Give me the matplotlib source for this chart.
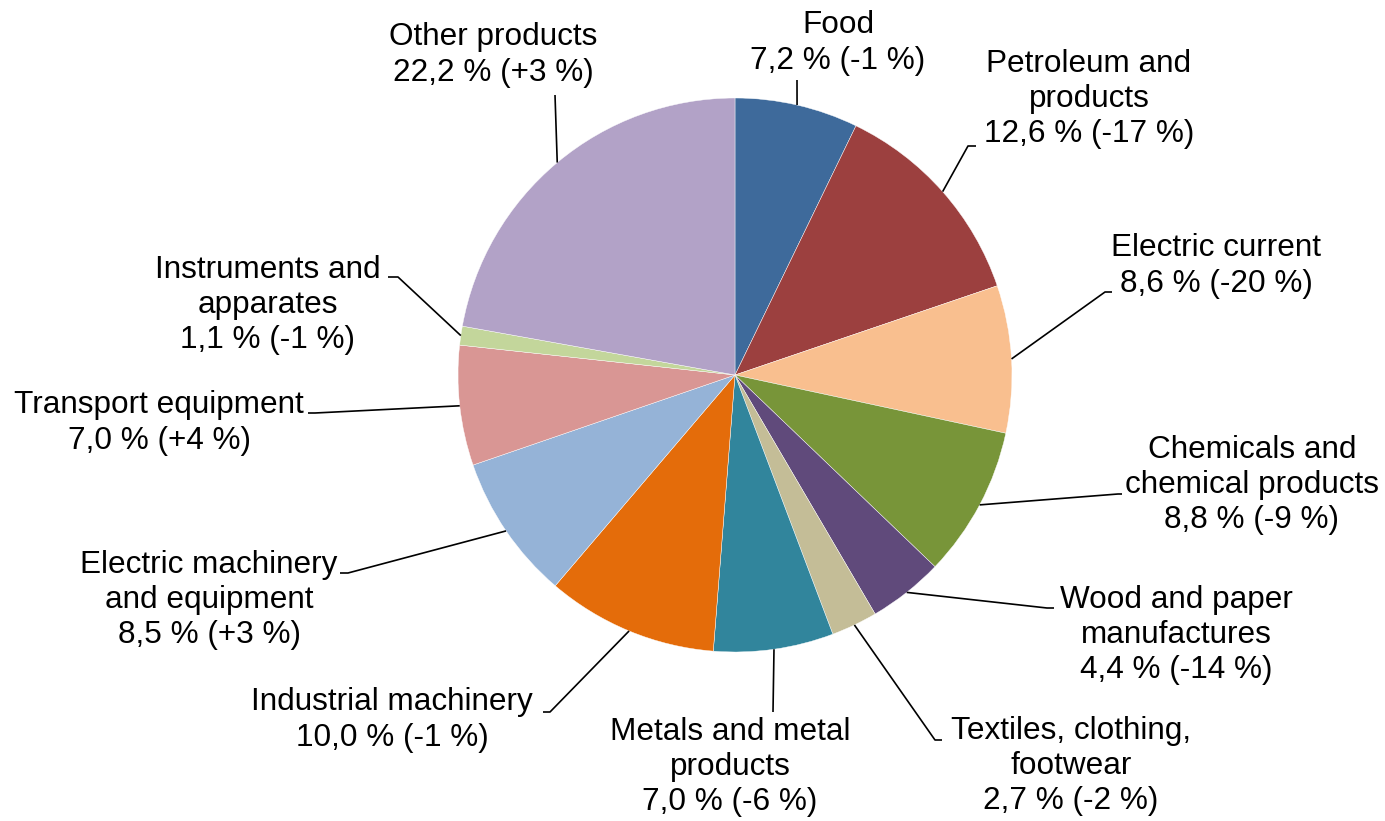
import numpy as np
import matplotlib.pyplot as plt

# data
categories = ['Food', 'Petroleum and\nproducts', 'Electric current',
              'Chemicals and\nchemical products', 'Wood and paper\nmanufactures',
              'Textiles, clothing,\nfootwear', 'Metals and metal\nproducts',
              'Industrial machinery', 'Electric machinery\nand equipment',
              'Transport equipment', 'Instruments and\napparates', 'Other products']
shares = [7.2, 12.6, 8.6, 8.8, 4.4, 2.7, 7.0, 10.0, 8.5, 7.0, 1.1, 22.2]
share_labels = ['7,2', '12,6', '8,6', '8,8', '4,4', '2,7', '7,0', '10,0', '8,5', '7,0', '1,1', '22,2']
changes = ['-1', '-17', '-20', '-9', '-14', '-2', '-6', '-1', '+3', '+4', '-1', '+3']

colors = ['#3E6A9B', '#9C403F', '#F9BF8F', '#789539', '#604A7B', '#C4BD97',
          '#31859C', '#E46C0A', '#95B3D7', '#D99694', '#C3D69B', '#B2A2C7']

W, H = 1385, 821
cx, cy, R = 735, 375, 277

# label layout in pixel coords (text centre, elbow of leader, end of leader)
text_pos = [(838, 43), (1089, 99), (1216, 266), (1252, 485), (1176, 635),
            (1071, 766), (730, 767), (392, 720), (209, 600), (159, 423),
            (268, 305), (493, 55)]
elbows = [(797, 80), (968, 146), (1105, 292), (1118, 494), (1047, 608),
          (935, 740), (773, 712), (550, 712), (348, 573), (315, 413),
          (398, 277), (555, 95)]
ends = [(797, 80), (976, 146), (1112, 292), (1122, 494), (1054, 608),
        (942, 740), (773, 712), (543, 712), (340, 573), (308, 413),
        (388, 277), (555, 95)]

plt.rcParams['font.family'] = ['Liberation Sans', 'DejaVu Sans']

fig = plt.figure(figsize=(W / 100, H / 100), dpi=100)
ax = fig.add_axes([0, 0, 1, 1])

wedges, _ = ax.pie(shares, colors=colors, startangle=90, counterclock=False,
                   center=(cx, H - cy), radius=R,
                   wedgeprops=dict(edgecolor='white', linewidth=0.3))

total = sum(shares)
cum = 0
for i, v in enumerate(shares):
    mid = (cum + v / 2) / total * 2 * np.pi
    cum += v
    sx = cx + R * np.sin(mid)
    sy = cy - R * np.cos(mid)
    ex, ey = elbows[i]
    tx, ty = ends[i]
    ax.plot([sx, ex, tx], [H - sy, H - ey, H - ty], color='black', lw=1.2,
            solid_capstyle='butt', zorder=3)
    label = f'{categories[i]}\n{share_labels[i]} % ({changes[i]} %)'
    px, py = text_pos[i]
    ax.text(px, H - py, label, ha='center', va='center', fontsize=22.7,
            linespacing=1.22, color='black')

ax.set_xlim(0, W)
ax.set_ylim(0, H)
ax.set_aspect('equal')
ax.axis('off')

fig.savefig('out.png', dpi=100, facecolor='white')
